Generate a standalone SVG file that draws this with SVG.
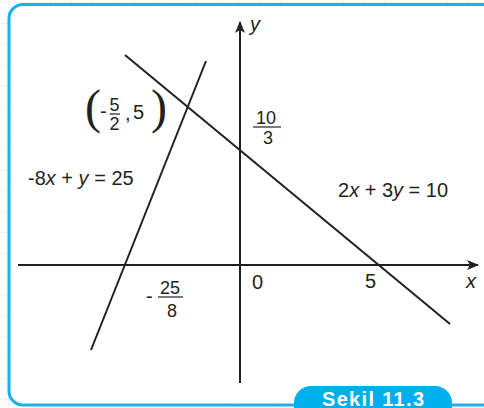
<svg xmlns="http://www.w3.org/2000/svg" width="484" height="408" viewBox="0 0 484 408">
  <style>
    .ax { stroke: #231f20; stroke-width: 2; fill: none; }
    .ln { stroke: #231f20; stroke-width: 2; fill: none; }
    .t { font-family: "Liberation Sans", "Open Sans", sans-serif; font-size: 20px; fill: #231f20; }
    .f { font-family: "Liberation Sans", "Open Sans", sans-serif; font-size: 18px; fill: #231f20; text-anchor: middle; }
    .i { font-style: italic; }
    .bar { stroke: #231f20; stroke-width: 1.2; }
    .par { font-family: "Liberation Serif", "Times New Roman", serif; font-size: 48px; fill: #231f20; }
  </style>
  <defs>
    <pattern id="grid" width="20.9" height="20.9" patternUnits="userSpaceOnUse" x="8.2" y="2.1">
      <path d="M0,0 H20.9 M0,0 V20.9" stroke="#cde8f6" stroke-width="1" fill="none"/>
    </pattern>
    <marker id="arr" viewBox="0 0 12 10" refX="11" refY="5" markerWidth="12" markerHeight="10" markerUnits="userSpaceOnUse" orient="auto">
      <path d="M0,0 L12,5 L0,10 L3,5 z" fill="#231f20"/>
    </marker>
  </defs>

  <rect x="0" y="0" width="484" height="408" fill="#ffffff"/>
  <rect x="0" y="0" width="484" height="408" fill="url(#grid)"/>

  <g id="frame">
    <rect x="9" y="4.5" width="500" height="400.5" rx="14" ry="14" fill="#ffffff" stroke="#1cb0ea" stroke-width="3"/>
  </g>

  <g id="connectors">
    <line id="x-axis" class="ax" x1="18" y1="265" x2="478" y2="265" marker-end="url(#arr)"/>
    <line id="y-axis" class="ax" x1="240" y1="383" x2="240" y2="22" marker-end="url(#arr)"/>
    <line id="line-2x3y" class="ln" x1="125" y1="55" x2="450" y2="324"/>
    <line id="line-8xy" class="ln" x1="91" y1="350" x2="206" y2="61"/>
  </g>

  <g id="axis-labels">
    <text class="t i" x="250" y="31">y</text>
    <text class="t i" x="466" y="288">x</text>
    <text class="t" x="252" y="289">0</text>
    <text class="t" x="365" y="288">5</text>
  </g>

  <g id="point-label">
    <text class="par" x="85" y="123">(</text>
    <text class="t" x="100" y="118">-</text>
    <text class="f" x="114.5" y="111" font-size="19">5</text>
    <line class="bar" x1="109.5" y1="114" x2="120" y2="114"/>
    <text class="f" x="114.5" y="130" font-size="19">2</text>
    <text class="t" x="125" y="120">,</text>
    <text class="t" x="133" y="119">5</text>
    <text class="par" x="151" y="123">)</text>
  </g>

  <g id="intercept-y">
    <text class="f" x="266" y="124">10</text>
    <line class="bar" x1="253" y1="127" x2="281" y2="127"/>
    <text class="f" x="268" y="144">3</text>
  </g>

  <g id="intercept-x">
    <text class="t" x="146" y="303">-</text>
    <text class="f" x="170" y="294">25</text>
    <line class="bar" x1="158" y1="297" x2="183" y2="297"/>
    <text class="f" x="172" y="317">8</text>
  </g>

  <g id="eq1">
    <text class="t" x="28" y="185">-8<tspan class="i">x</tspan> + <tspan class="i">y</tspan> = 25</text>
  </g>
  <g id="eq2">
    <text class="t" x="338" y="197">2<tspan class="i">x</tspan> + 3<tspan class="i">y</tspan> = 10</text>
  </g>

  <g id="caption">
    <rect x="294" y="386" width="158" height="40" rx="17" ry="17" fill="#00aeef"/>
    <text x="373" y="406" font-family="Liberation Sans, Open Sans, sans-serif" font-size="20" font-weight="bold" fill="#ffffff" text-anchor="middle" textLength="102" lengthAdjust="spacing">Sekil 11.3</text>
  </g>
</svg>
